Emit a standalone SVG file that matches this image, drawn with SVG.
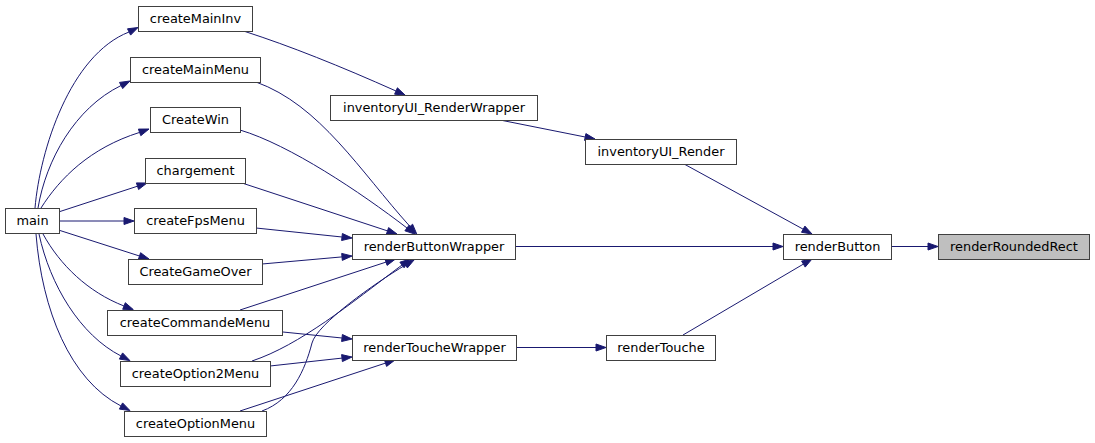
<svg xmlns="http://www.w3.org/2000/svg" width="1095" height="443" viewBox="0 0 1095 443">
<style>
.n rect{fill:#ffffff;stroke:#404040;stroke-width:1}
.n.g rect{fill:#bfbfbf}
.n text{font-family:"DejaVu Sans","Liberation Sans",sans-serif;font-size:12.9px;fill:#000;text-anchor:middle}
.e path{fill:none;stroke:#191970;stroke-width:1}
.e polygon{fill:#191970;stroke:#191970;stroke-width:1}
</style>
<rect width="1095" height="443" fill="#ffffff"/>
<g id="connectors" class="e">
<path d="M35,208 C40,150 70,55 129,32"/><polygon points="130.6,35.1 138,27.5 127.5,28.8"/>
<path d="M38,208 C46,160 75,108 121.1,85.5"/><polygon points="122.7,88.6 130,81 119.5,82.4"/>
<path d="M41,208 C60,178 90,148 139.6,132.4"/><polygon points="140.8,135.7 149,129 138.4,129.1"/>
<path d="M60,211.5 L137.5,186.2"/><polygon points="138.6,189.5 147,183 136.4,182.9"/>
<path d="M60,221 L124,221"/><polygon points="124,224.5 134,221 124,217.5"/>
<path d="M60,230.5 L139.5,256"/><polygon points="138.4,259.3 149,259 140.6,252.7"/>
<path d="M43,234 C60,265 88,292 124,306"/><polygon points="122.7,309.3 133.3,309.6 125.3,302.7"/>
<path d="M39,234 C50,285 80,335 121,356"/><polygon points="119.4,359.1 129.9,360.6 122.6,352.9"/>
<path d="M36,234 C42,310 70,380 121,406"/><polygon points="119.4,409.1 129.9,410.5 122.6,402.9"/>
<path d="M245,31.5 C290,46 340,66 396,91"/><polygon points="394.6,94.2 405.1,95.1 397.4,87.8"/>
<path d="M500,120 L585.2,137"/><polygon points="584.5,140.4 595,139 585.9,133.6"/>
<path d="M685,164.5 L803.2,229.2"/><polygon points="801.5,232.3 812,234 804.9,226.1"/>
<path d="M515,246.5 L773,246.5"/><polygon points="773,250 783,246.5 773,243"/>
<path d="M683,335 L803.4,264.1"/><polygon points="805.2,267.1 812,259 801.6,261.1"/>
<path d="M891,246.5 L928,246.5"/><polygon points="928,250 938,246.5 928,243"/>
<path d="M516,347.5 L596,347.5"/><polygon points="596,351 606,347.5 596,344"/>
<path d="M256,82 C320,105 360,171 410,226.5"/><polygon points="407.4,228.8 416.7,233.9 412.6,224.2"/>
<path d="M240,130 C290,145 360,192 407,228"/><polygon points="404.9,230.8 414.9,234.1 409.1,225.2"/>
<path d="M242,183 L387.5,230.9"/><polygon points="386.4,234.2 397,234 388.6,227.6"/>
<path d="M256,228 L342,237"/><polygon points="341.6,240.5 352,238 342.4,233.5"/>
<path d="M262,264 L342,256.9"/><polygon points="342.3,260.4 352,256 341.7,253.4"/>
<path d="M240,310 L386,262.1"/><polygon points="387.1,265.4 395.5,259 384.9,258.8"/>
<path d="M252,361 C300,345 350,304 402,265"/><polygon points="404.1,267.8 410,259 399.9,262.2"/>
<path d="M262,411 C292,400 305,370 312,343 C317,324 375,283 405.6,264.9"/><polygon points="407.4,267.9 414.2,259.8 403.8,261.9"/>
<path d="M283,332 L342,338"/><polygon points="341.6,341.5 352,339 342.4,334.5"/>
<path d="M270,366 L342,358.1"/><polygon points="342.4,361.6 352,357 341.6,354.6"/>
<path d="M240,411 L385.5,363.1"/><polygon points="386.6,366.4 395,360 384.4,359.8"/>
</g>
<g id="main" class="n"><rect x="5.5" y="208.5" width="54" height="25"/><text x="32.5" y="225">main</text></g>
<g id="createMainInv" class="n"><rect x="138.5" y="6.5" width="114" height="25"/><text x="195.5" y="23">createMainInv</text></g>
<g id="createMainMenu" class="n"><rect x="130.5" y="57.5" width="130" height="25"/><text x="195.5" y="74">createMainMenu</text></g>
<g id="CreateWin" class="n"><rect x="150.5" y="107.5" width="90" height="25"/><text x="195.5" y="124">CreateWin</text></g>
<g id="chargement" class="n"><rect x="145.5" y="158.5" width="100" height="25"/><text x="195.5" y="175">chargement</text></g>
<g id="createFpsMenu" class="n"><rect x="134.5" y="208.5" width="122" height="25"/><text x="195.5" y="225">createFpsMenu</text></g>
<g id="CreateGameOver" class="n"><rect x="128.5" y="259.5" width="134" height="25"/><text x="195.5" y="276">CreateGameOver</text></g>
<g id="createCommandeMenu" class="n"><rect x="107.5" y="310.5" width="175" height="25"/><text x="195" y="327">createCommandeMenu</text></g>
<g id="createOption2Menu" class="n"><rect x="120.5" y="361.5" width="150" height="25"/><text x="195.5" y="378">createOption2Menu</text></g>
<g id="createOptionMenu" class="n"><rect x="124.5" y="411.5" width="142" height="25"/><text x="195.5" y="428">createOptionMenu</text></g>
<g id="inventoryUI_RenderWrapper" class="n"><rect x="330.5" y="95.5" width="207" height="25"/><text x="434" y="112">inventoryUI_RenderWrapper</text></g>
<g id="inventoryUI_Render" class="n"><rect x="585.5" y="139.5" width="151" height="25"/><text x="661" y="156">inventoryUI_Render</text></g>
<g id="renderButtonWrapper" class="n"><rect x="352.5" y="234.5" width="163" height="25"/><text x="434" y="251">renderButtonWrapper</text></g>
<g id="renderToucheWrapper" class="n"><rect x="352.5" y="335.5" width="164" height="25"/><text x="434.5" y="352">renderToucheWrapper</text></g>
<g id="renderTouche" class="n"><rect x="606.5" y="335.5" width="109" height="25"/><text x="661" y="352">renderTouche</text></g>
<g id="renderButton" class="n"><rect x="783.5" y="234.5" width="108" height="25"/><text x="837.5" y="251">renderButton</text></g>
<g id="renderRoundedRect" class="n g"><rect x="938.5" y="234.5" width="151" height="25"/><text x="1014" y="251">renderRoundedRect</text></g>
</svg>
